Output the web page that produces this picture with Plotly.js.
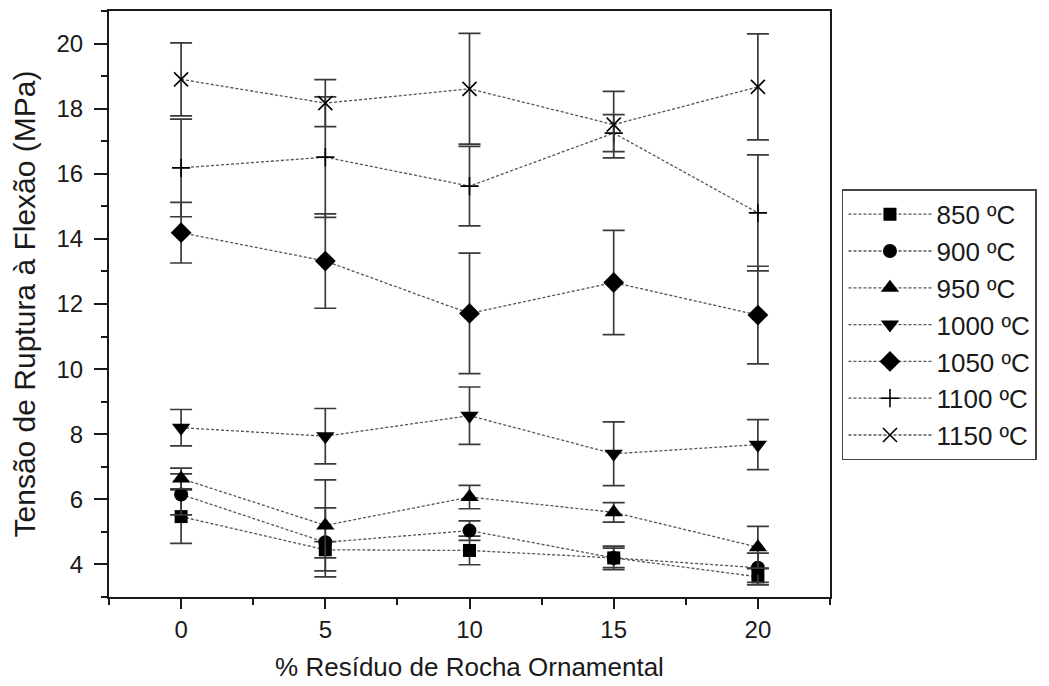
<!DOCTYPE html>
<html>
<head>
<meta charset="utf-8">
<script src="https://cdn.plot.ly/plotly-3.0.1.min.js"></script>
<style>html,body{margin:0;padding:0;background:#fff;}#chart{width:1049px;height:686px;}</style>
</head>
<body>
<div id="chart"></div>
<script>
// % residue (x)
const residue = [0, 5, 10, 15, 20];
// series names
const seriesNames = ["850 ºC", "900 ºC", "950 ºC", "1000 ºC", "1050 ºC", "1100 ºC", "1150 ºC"];
// mean values (MPa)
const t850  = [5.47, 4.45, 4.43, 4.20, 3.62];
const t900  = [6.15, 4.68, 5.04, 4.20, 3.90];
const t950  = [6.64, 5.20, 6.07, 5.60, 4.53];
const t1000 = [8.20, 7.94, 8.57, 7.40, 7.68];
const t1050 = [14.19, 13.32, 11.71, 12.66, 11.66];
const t1100 = [16.18, 16.51, 15.62, 17.25, 14.80];
const t1150 = [18.90, 18.17, 18.61, 17.51, 18.67];
// standard deviations (MPa)
const e850  = [0.82, 0.25, 0.44, 0.30, 0.25];
const e900  = [0.63, 1.06, 0.30, 0.36, 0.45];
const e950  = [0.32, 1.40, 0.36, 0.30, 0.64];
const e1000 = [0.56, 0.85, 0.88, 0.98, 0.77];
const e1050 = [0.93, 1.45, 1.85, 1.60, 1.50];
const e1100 = [1.50, 1.85, 1.22, 0.57, 1.78];
const e1150 = [1.12, 0.72, 1.70, 1.02, 1.63];

const values = [t850, t900, t950, t1000, t1050, t1100, t1150];
const errors = [e850, e900, e950, e1000, e1050, e1100, e1150];
const symbols = ["square", "circle", "triangle-up", "triangle-down", "diamond", "cross-thin-open", "x-thin-open"];
const sizes = [13, 14, 16, 16, 16, 13, 14];

const traces = values.map((v, i) => {
  const open = symbols[i].indexOf("thin") >= 0;
  return {
    x: residue, y: v, name: seriesNames[i], type: "scatter", mode: "lines+markers",
    line: {color: "#555", width: 1.3, dash: "3px,2px"},
    marker: {symbol: symbols[i], size: sizes[i], color: "#000",
             line: {color: open ? "#333" : "#000", width: open ? 1.6 : 0}},
    error_y: {type: "data", array: errors[i], visible: true, color: "#3a3a3a", thickness: 1.7, width: 11}
  };
});

const font = {family: "Liberation Sans, Arial, Helvetica, sans-serif", color: "#1a1a1a"};

const layout = {
  width: 1049, height: 686,
  margin: {l: 109, r: 219, t: 11, b: 89, autoexpand: false},
  paper_bgcolor: "#fff", plot_bgcolor: "#fff",
  font: Object.assign({size: 24}, font),
  showlegend: true,
  legend: {
    x: 1.0166, xanchor: "left", y: 0.6957, yanchor: "top",
    bordercolor: "#444", borderwidth: 1.5, bgcolor: "#fff",
    font: Object.assign({size: 26}, font),
    itemwidth: 83, tracegroupgap: 0
  },
  xaxis: {
    range: [-2.5, 22.5], tick0: 0, dtick: 5,
    showgrid: false, zeroline: false,
    showline: true, linecolor: "#1a1a1a", linewidth: 2, mirror: true,
    ticks: "outside", ticklen: 10, tickwidth: 2, tickcolor: "#1a1a1a",
    minor: {dtick: 2.5, ticks: "outside", ticklen: 6, tickwidth: 2, tickcolor: "#1a1a1a", showgrid: false},
    tickfont: Object.assign({size: 24}, font),
    title: {text: "% Resíduo de Rocha Ornamental", font: Object.assign({size: 26}, font), standoff: 16}
  },
  yaxis: {
    range: [3, 21], tick0: 0, dtick: 2,
    showgrid: false, zeroline: false,
    showline: true, linecolor: "#1a1a1a", linewidth: 2, mirror: true,
    ticks: "outside", ticklen: 13, tickwidth: 2, tickcolor: "#1a1a1a",
    ticklabelstandoff: 6,
    minor: {dtick: 1, ticks: "outside", ticklen: 6, tickwidth: 2, tickcolor: "#1a1a1a", showgrid: false},
    tickfont: Object.assign({size: 24}, font),
    title: {text: "Tensão de Ruptura à Flexão (MPa)", font: Object.assign({size: 30}, font), standoff: 12}
  }
};

Plotly.newPlot("chart", traces, layout, {displayModeBar: false, staticPlot: true});
</script>
</body>
</html>
